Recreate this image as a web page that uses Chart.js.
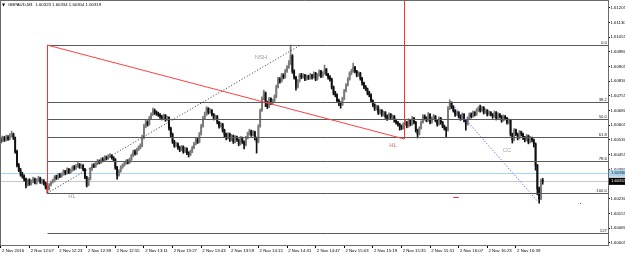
<!DOCTYPE html>
<html>
<head>
<meta charset="utf-8">
<script src="https://cdn.jsdelivr.net/npm/chart.js@4.4.1/dist/chart.umd.min.js"></script>
<style>
  html, body { margin: 0; padding: 0; background: #fff; overflow: hidden; }
  canvas { display: block; }
</style>
</head>
<body>
<canvas id="chart" width="625" height="254"></canvas>
<script>
// GBPAUD M1, 2 Nov 2016, one bar per minute from 11:51
const firstOpen = 1.60530;
const closes = [
  1.60525,1.60540,1.60530,1.60545,1.60535,1.60550,1.60560,1.60540,1.60470,1.60400,
  1.60375,1.60355,1.60345,1.60330,1.60300,1.60325,1.60305,1.60320,1.60330,1.60310,
  1.60325,1.60335,1.60315,1.60320,1.60310,1.60290,1.60280,1.60300,1.60315,1.60320,
  1.60340,1.60335,1.60350,1.60345,1.60355,1.60370,1.60360,1.60380,1.60365,1.60375,
  1.60390,1.60385,1.60395,1.60405,1.60390,1.60400,1.60380,1.60340,1.60300,1.60330,
  1.60380,1.60400,1.60395,1.60410,1.60420,1.60415,1.60430,1.60425,1.60440,1.60435,
  1.60445,1.60450,1.60440,1.60430,1.60390,1.60350,1.60370,1.60390,1.60400,1.60410,
  1.60420,1.60415,1.60430,1.60450,1.60470,1.60460,1.60480,1.60490,1.60500,1.60540,
  1.60600,1.60620,1.60610,1.60640,1.60660,1.60680,1.60670,1.60665,1.60660,1.60650,
  1.60640,1.60655,1.60635,1.60645,1.60590,1.60560,1.60520,1.60500,1.60510,1.60490,
  1.60480,1.60495,1.60470,1.60485,1.60465,1.60455,1.60470,1.60490,1.60510,1.60530,
  1.60520,1.60560,1.60600,1.60640,1.60660,1.60690,1.60670,1.60680,1.60660,1.60640,
  1.60650,1.60620,1.60600,1.60610,1.60580,1.60560,1.60540,1.60560,1.60530,1.60550,
  1.60520,1.60545,1.60530,1.60510,1.60540,1.60520,1.60505,1.60540,1.60560,1.60575,
  1.60555,1.60570,1.60540,1.60520,1.60600,1.60680,1.60740,1.60770,1.60720,1.60700,
  1.60740,1.60720,1.60730,1.60750,1.60800,1.60840,1.60830,1.60860,1.60850,1.60880,
  1.60900,1.60920,1.60960,1.60880,1.60850,1.60800,1.60830,1.60860,1.60850,1.60860,
  1.60840,1.60855,1.60845,1.60860,1.60850,1.60870,1.60840,1.60860,1.60880,1.60855,
  1.60870,1.60890,1.60865,1.60850,1.60840,1.60800,1.60770,1.60760,1.60730,1.60720,
  1.60710,1.60740,1.60780,1.60810,1.60840,1.60870,1.60880,1.60900,1.60880,1.60860,
  1.60870,1.60845,1.60820,1.60800,1.60790,1.60770,1.60760,1.60730,1.60710,1.60690,
  1.60700,1.60670,1.60680,1.60660,1.60670,1.60650,1.60640,1.60660,1.60645,1.60650,
  1.60630,1.60620,1.60610,1.60600,1.60590,1.60610,1.60620,1.60600,1.60630,1.60610,
  1.60640,1.60620,1.60580,1.60560,1.60590,1.60620,1.60650,1.60640,1.60630,1.60660,
  1.60620,1.60640,1.60650,1.60630,1.60610,1.60640,1.60620,1.60600,1.60590,1.60580,
  1.60690,1.60720,1.60700,1.60680,1.60660,1.60670,1.60650,1.60640,1.60660,1.60630,
  1.60610,1.60640,1.60660,1.60650,1.60670,1.60660,1.60680,1.60690,1.60680,1.60695,
  1.60670,1.60680,1.60660,1.60670,1.60660,1.60650,1.60670,1.60640,1.60660,1.60650,
  1.60630,1.60650,1.60640,1.60620,1.60630,1.60560,1.60530,1.60580,1.60560,1.60540,
  1.60570,1.60560,1.60540,1.60530,1.60550,1.60520,1.60540,1.60530,1.60510,1.60400,
  1.60280,1.60230,1.60323,1.60319
];
const highs = [
  1.60545,1.60550,1.60548,1.60555,1.60552,1.60562,1.60575,1.60565,1.60545,1.60478,
  1.60410,1.60385,1.60365,1.60352,1.60335,1.60330,1.60332,1.60326,1.60340,1.60335,
  1.60332,1.60345,1.60340,1.60330,1.60328,1.60315,1.60295,1.60308,1.60320,1.60330,
  1.60348,1.60350,1.60358,1.60360,1.60362,1.60378,1.60375,1.60388,1.60385,1.60382,
  1.60398,1.60400,1.60405,1.60415,1.60410,1.60408,1.60404,1.60385,1.60345,1.60338,
  1.60388,1.60408,1.60410,1.60418,1.60430,1.60428,1.60438,1.60440,1.60450,1.60448,
  1.60455,1.60460,1.60455,1.60445,1.60435,1.60395,1.60378,1.60398,1.60408,1.60418,
  1.60428,1.60430,1.60438,1.60458,1.60478,1.60480,1.60488,1.60500,1.60510,1.60555,
  1.60610,1.60630,1.60628,1.60650,1.60668,1.60692,1.60688,1.60678,1.60672,1.60665,
  1.60656,1.60662,1.60660,1.60652,1.60648,1.60595,1.60565,1.60528,1.60518,1.60515,
  1.60498,1.60502,1.60500,1.60492,1.60490,1.60470,1.60478,1.60498,1.60518,1.60540,
  1.60538,1.60568,1.60610,1.60650,1.60672,1.60700,1.60695,1.60690,1.60685,1.60665,
  1.60658,1.60655,1.60625,1.60618,1.60615,1.60585,1.60565,1.60568,1.60565,1.60558,
  1.60555,1.60552,1.60550,1.60535,1.60548,1.60545,1.60525,1.60548,1.60570,1.60585,
  1.60580,1.60578,1.60575,1.60545,1.60608,1.60688,1.60750,1.60784,1.60775,1.60728,
  1.60748,1.60745,1.60738,1.60760,1.60810,1.60850,1.60848,1.60870,1.60868,1.60890,
  1.60910,1.60935,1.61014,1.60965,1.60888,1.60855,1.60838,1.60868,1.60870,1.60868,
  1.60865,1.60862,1.60860,1.60870,1.60865,1.60878,1.60875,1.60868,1.60888,1.60885,
  1.60878,1.60912,1.60895,1.60870,1.60858,1.60845,1.60805,1.60778,1.60765,1.60738,
  1.60725,1.60748,1.60788,1.60818,1.60848,1.60878,1.60890,1.60922,1.60905,1.60885,
  1.60878,1.60875,1.60850,1.60825,1.60808,1.60795,1.60778,1.60765,1.60735,1.60715,
  1.60708,1.60705,1.60688,1.60685,1.60678,1.60675,1.60658,1.60668,1.60665,1.60658,
  1.60655,1.60636,1.60625,1.60615,1.60606,1.60618,1.60630,1.60625,1.60638,1.60635,
  1.60650,1.60645,1.60625,1.60585,1.60598,1.60628,1.60660,1.60658,1.60648,1.60670,
  1.60665,1.60648,1.60660,1.60655,1.60635,1.60648,1.60645,1.60625,1.60606,1.60595,
  1.60700,1.60735,1.60725,1.60705,1.60685,1.60678,1.60675,1.60658,1.60668,1.60665,
  1.60635,1.60648,1.60668,1.60668,1.60678,1.60675,1.60690,1.60700,1.60708,1.60702,
  1.60700,1.60688,1.60685,1.60678,1.60675,1.60665,1.60678,1.60675,1.60668,1.60665,
  1.60655,1.60658,1.60655,1.60645,1.60638,1.60635,1.60565,1.60588,1.60585,1.60565,
  1.60578,1.60575,1.60565,1.60548,1.60558,1.60555,1.60548,1.60545,1.60535,1.60515,
  1.60405,1.60290,1.60330,1.60334
];
const lows = [
  1.60515,1.60520,1.60522,1.60525,1.60528,1.60530,1.60545,1.60532,1.60462,1.60392,
  1.60368,1.60345,1.60335,1.60320,1.60285,1.60295,1.60298,1.60300,1.60312,1.60305,
  1.60304,1.60318,1.60308,1.60306,1.60300,1.60280,1.60259,1.60275,1.60295,1.60310,
  1.60316,1.60328,1.60330,1.60338,1.60340,1.60350,1.60352,1.60355,1.60358,1.60360,
  1.60370,1.60376,1.60380,1.60390,1.60385,1.60384,1.60372,1.60332,1.60290,1.60296,
  1.60326,1.60375,1.60388,1.60390,1.60404,1.60408,1.60410,1.60418,1.60420,1.60428,
  1.60430,1.60440,1.60432,1.60420,1.60380,1.60330,1.60345,1.60365,1.60385,1.60395,
  1.60405,1.60408,1.60410,1.60425,1.60445,1.60452,1.60455,1.60475,1.60485,1.60495,
  1.60535,1.60592,1.60600,1.60605,1.60635,1.60655,1.60660,1.60655,1.60650,1.60640,
  1.60632,1.60635,1.60625,1.60628,1.60580,1.60545,1.60512,1.60492,1.60495,1.60482,
  1.60470,1.60475,1.60462,1.60465,1.60455,1.60443,1.60450,1.60465,1.60485,1.60505,
  1.60512,1.60515,1.60555,1.60595,1.60635,1.60655,1.60662,1.60665,1.60652,1.60632,
  1.60635,1.60612,1.60590,1.60595,1.60570,1.60545,1.60530,1.60535,1.60522,1.60525,
  1.60512,1.60515,1.60522,1.60500,1.60505,1.60512,1.60484,1.60500,1.60535,1.60555,
  1.60548,1.60550,1.60530,1.60463,1.60515,1.60595,1.60675,1.60735,1.60700,1.60690,
  1.60695,1.60710,1.60712,1.60725,1.60745,1.60795,1.60820,1.60825,1.60842,1.60845,
  1.60875,1.60895,1.60915,1.60870,1.60840,1.60784,1.60795,1.60825,1.60842,1.60845,
  1.60832,1.60835,1.60838,1.60840,1.60840,1.60845,1.60832,1.60835,1.60855,1.60848,
  1.60850,1.60865,1.60858,1.60840,1.60830,1.60790,1.60760,1.60750,1.60720,1.60705,
  1.60692,1.60705,1.60735,1.60775,1.60805,1.60835,1.60862,1.60875,1.60872,1.60852,
  1.60855,1.60835,1.60810,1.60792,1.60782,1.60760,1.60750,1.60720,1.60700,1.60680,
  1.60682,1.60660,1.60662,1.60650,1.60652,1.60640,1.60630,1.60635,1.60636,1.60638,
  1.60620,1.60610,1.60600,1.60580,1.60582,1.60585,1.60604,1.60592,1.60595,1.60602,
  1.60605,1.60612,1.60570,1.60540,1.60555,1.60585,1.60615,1.60632,1.60622,1.60625,
  1.60612,1.60615,1.60634,1.60622,1.60600,1.60605,1.60610,1.60592,1.60580,1.60545,
  1.60575,1.60685,1.60690,1.60672,1.60650,1.60655,1.60642,1.60630,1.60635,1.60622,
  1.60580,1.60605,1.60635,1.60642,1.60645,1.60652,1.60655,1.60675,1.60672,1.60675,
  1.60662,1.60665,1.60652,1.60655,1.60652,1.60640,1.60645,1.60632,1.60635,1.60642,
  1.60620,1.60625,1.60632,1.60610,1.60612,1.60550,1.60514,1.60525,1.60552,1.60530,
  1.60535,1.60550,1.60532,1.60520,1.60525,1.60510,1.60515,1.60520,1.60494,1.60376,
  1.60250,1.60208,1.60225,1.60304
];

const timeTicks = ['2 Nov 2016','2 Nov 12:07','2 Nov 12:23','2 Nov 12:39','2 Nov 12:55','2 Nov 13:11',
  '2 Nov 13:27','2 Nov 13:43','2 Nov 13:59','2 Nov 14:15','2 Nov 14:31','2 Nov 14:47','2 Nov 15:03',
  '2 Nov 15:19','2 Nov 15:35','2 Nov 15:51','2 Nov 16:07','2 Nov 16:23','2 Nov 16:39'];
const barsPerTimeTick = 16;
const priceTicks = [1.61205,1.61130,1.61055,1.60980,1.60905,1.60830,1.60755,1.60680,1.60605,
  1.60530,1.60455,1.60380,1.60305,1.60230,1.60155,1.60080,1.60005];

const fibLevels = [0, 38.2, 50, 61.8, 78.6, 100, 127.2];
const fibLabels = ['0.0', '38.2', '50.0', '61.8', '78.6', '100.0', '127'];
const fibHigh = 1.61014, fibLow = 1.60259, fibStartBar = 26;
const bidPrice = 1.60319, askPrice = 1.60360;
const header = 'GBPAUD,M1  1.60323 1.60334 1.60304 1.60319';

// open of each bar = close of the bar before
const opens = closes.map((c, i) => i === 0 ? firstOpen : closes[i - 1]);

const FONT = "'Liberation Sans', Arial, sans-serif";
const upColor = '#7a7a7a', downColor = '#111111';
const barColor = ctx => closes[ctx.dataIndex] >= opens[ctx.dataIndex] ? upColor : downColor;

function line(ctx, x1, y1, x2, y2, color, dash) {
  ctx.beginPath();
  ctx.strokeStyle = color;
  ctx.setLineDash(dash || []);
  ctx.moveTo(x1, y1);
  ctx.lineTo(x2, y2);
  ctx.stroke();
}
const snap = v => Math.round(v) + 0.5;

const overlay = {
  id: 'overlay',
  beforeDatasetsDraw(chart) {
    const { ctx, chartArea: a, scales: { y } } = chart;
    ctx.save();
    ctx.lineWidth = 1;
    line(ctx, a.left, snap(y.getPixelForValue(askPrice)), a.right, snap(y.getPixelForValue(askPrice)), '#a9d6ee');
    line(ctx, a.left, snap(y.getPixelForValue(bidPrice)), a.right, snap(y.getPixelForValue(bidPrice)), '#c8c8c8');
    ctx.restore();
  },
  afterDatasetsDraw(chart) {
    const { ctx, chartArea: a, scales: { x, y } } = chart;
    const X = v => x.getPixelForValue(v), Y = v => y.getPixelForValue(v);
    ctx.save();
    ctx.lineWidth = 1;

    // fibonacci levels
    ctx.font = '4.3px ' + FONT;
    ctx.textAlign = 'right';
    ctx.textBaseline = 'bottom';
    fibLevels.forEach((lvl, k) => {
      const p = fibHigh - lvl / 100 * (fibHigh - fibLow);
      const py = snap(Y(p));
      line(ctx, snap(X(fibStartBar)), py, a.right, py, '#5a5a5a');
      ctx.fillStyle = '#222';
      ctx.fillText(fibLabels[k], a.right - 1, py - 0.5);
    });

    // red retracement lines
    line(ctx, snap(X(fibStartBar)), Y(fibHigh), snap(X(fibStartBar)), Y(fibLow), '#ff3030');
    line(ctx, X(fibStartBar), Y(fibHigh), X(225.5), Y(1.60535), '#ff4040');
    line(ctx, snap(X(225.5)), a.top, snap(X(225.5)), Y(1.60535), '#ff3030');

    // dotted trend lines
    line(ctx, X(fibStartBar), Y(fibLow), X(167.5), Y(fibHigh), '#333', [1, 2]);
    line(ctx, X(252.8), Y(1.60708), X(301.5), Y(1.60203), '#3a3af0', [1, 2]);

    // small marks
    line(ctx, X(253), snap(Y(1.60239)), X(256), snap(Y(1.60239)), '#e03030');
    ctx.fillStyle = '#3a3af0';
    ctx.fillRect(Math.round(X(323.8)), Math.round(Y(1.60208)), 1, 1);

    // text labels
    ctx.setLineDash([]);
    ctx.font = '6px ' + FONT;
    ctx.textAlign = 'center';
    ctx.textBaseline = 'middle';
    ctx.fillStyle = '#a0a0a0';
    ctx.fillText('NSH', X(145.5), Y(1.60953));
    ctx.fillText('HL', X(39.8), Y(1.60244));
    ctx.fillText('CC', X(283), Y(1.60478));
    ctx.fillStyle = '#c87070';
    ctx.fillText('HL', X(219.3), Y(1.60504));

    // price boxes on the axis
    ctx.font = '4.3px ' + FONT;
    ctx.textAlign = 'left';
    const ay = Y(askPrice), by = Y(bidPrice);
    ctx.fillStyle = '#a9d6ee';
    ctx.fillRect(a.right + 1, ay - 3.5, 17, 7);
    ctx.fillStyle = '#1a1a1a';
    ctx.fillText(askPrice.toFixed(5), a.right + 3, ay);
    ctx.fillStyle = '#000';
    ctx.fillRect(a.right + 1, by - 3.5, 17, 7);
    ctx.fillStyle = '#fff';
    ctx.fillText(bidPrice.toFixed(5), a.right + 3, by);

    // frame and header
    line(ctx, 0.5, a.top + 0.5, a.right, a.top + 0.5, '#6a6a6a');
    line(ctx, 0.5, a.top, 0.5, a.bottom, '#6a6a6a');
    ctx.fillStyle = '#000';
    ctx.font = '4px DejaVu Sans';
    ctx.fillText('\u25BC', 2, 5);
    ctx.font = '4.3px ' + FONT;
    ctx.fillText(header, 8, 5);
    ctx.restore();
  }
};

new Chart(document.getElementById('chart'), {
  type: 'bar',
  data: {
    datasets: [
      {
        label: 'range',
        data: closes.map((c, i) => ({ x: i, y: [lows[i], highs[i]] })),
        backgroundColor: barColor,
        barThickness: 1,
        grouped: false,
        order: 2
      },
      {
        label: 'body',
        data: closes.map((c, i) => ({ x: i, y: [opens[i], c] })),
        backgroundColor: barColor,
        barThickness: 1.2,
        grouped: false,
        order: 1
      }
    ]
  },
  options: {
    responsive: false,
    animation: false,
    events: [],
    layout: { padding: 0 },
    plugins: { legend: { display: false }, tooltip: { enabled: false }, title: { display: false } },
    scales: {
      x: {
        type: 'linear',
        min: -0.5,
        max: 339.5,
        offset: false,
        afterBuildTicks: s => { s.ticks = timeTicks.map((t, k) => ({ value: k * barsPerTimeTick })); },
        afterFit: s => { s.height = 9; s.paddingLeft = 0; s.paddingRight = 0; },
        ticks: {
          autoSkip: false,
          maxRotation: 0,
          align: 'start',
          padding: 0.5,
          color: '#000',
          font: { size: 4.3, family: FONT },
          callback: v => ' ' + timeTicks[Math.round(v / barsPerTimeTick)]
        },
        grid: { drawOnChartArea: false, tickLength: 3, color: '#000', offset: false },
        border: { color: '#6a6a6a' }
      },
      y: {
        type: 'linear',
        position: 'right',
        min: 1.59994,
        max: 1.61244,
        afterBuildTicks: s => { s.ticks = priceTicks.map(v => ({ value: v })); },
        afterFit: s => { s.width = 17; s.paddingTop = 0; s.paddingBottom = 0; },
        ticks: {
          padding: 0.5,
          color: '#000',
          font: { size: 4.3, family: FONT },
          callback: v => v.toFixed(5)
        },
        grid: { drawOnChartArea: false, tickLength: 2, color: '#000' },
        border: { color: '#6a6a6a' }
      }
    }
  },
  plugins: [overlay]
});
</script>
</body>
</html>
